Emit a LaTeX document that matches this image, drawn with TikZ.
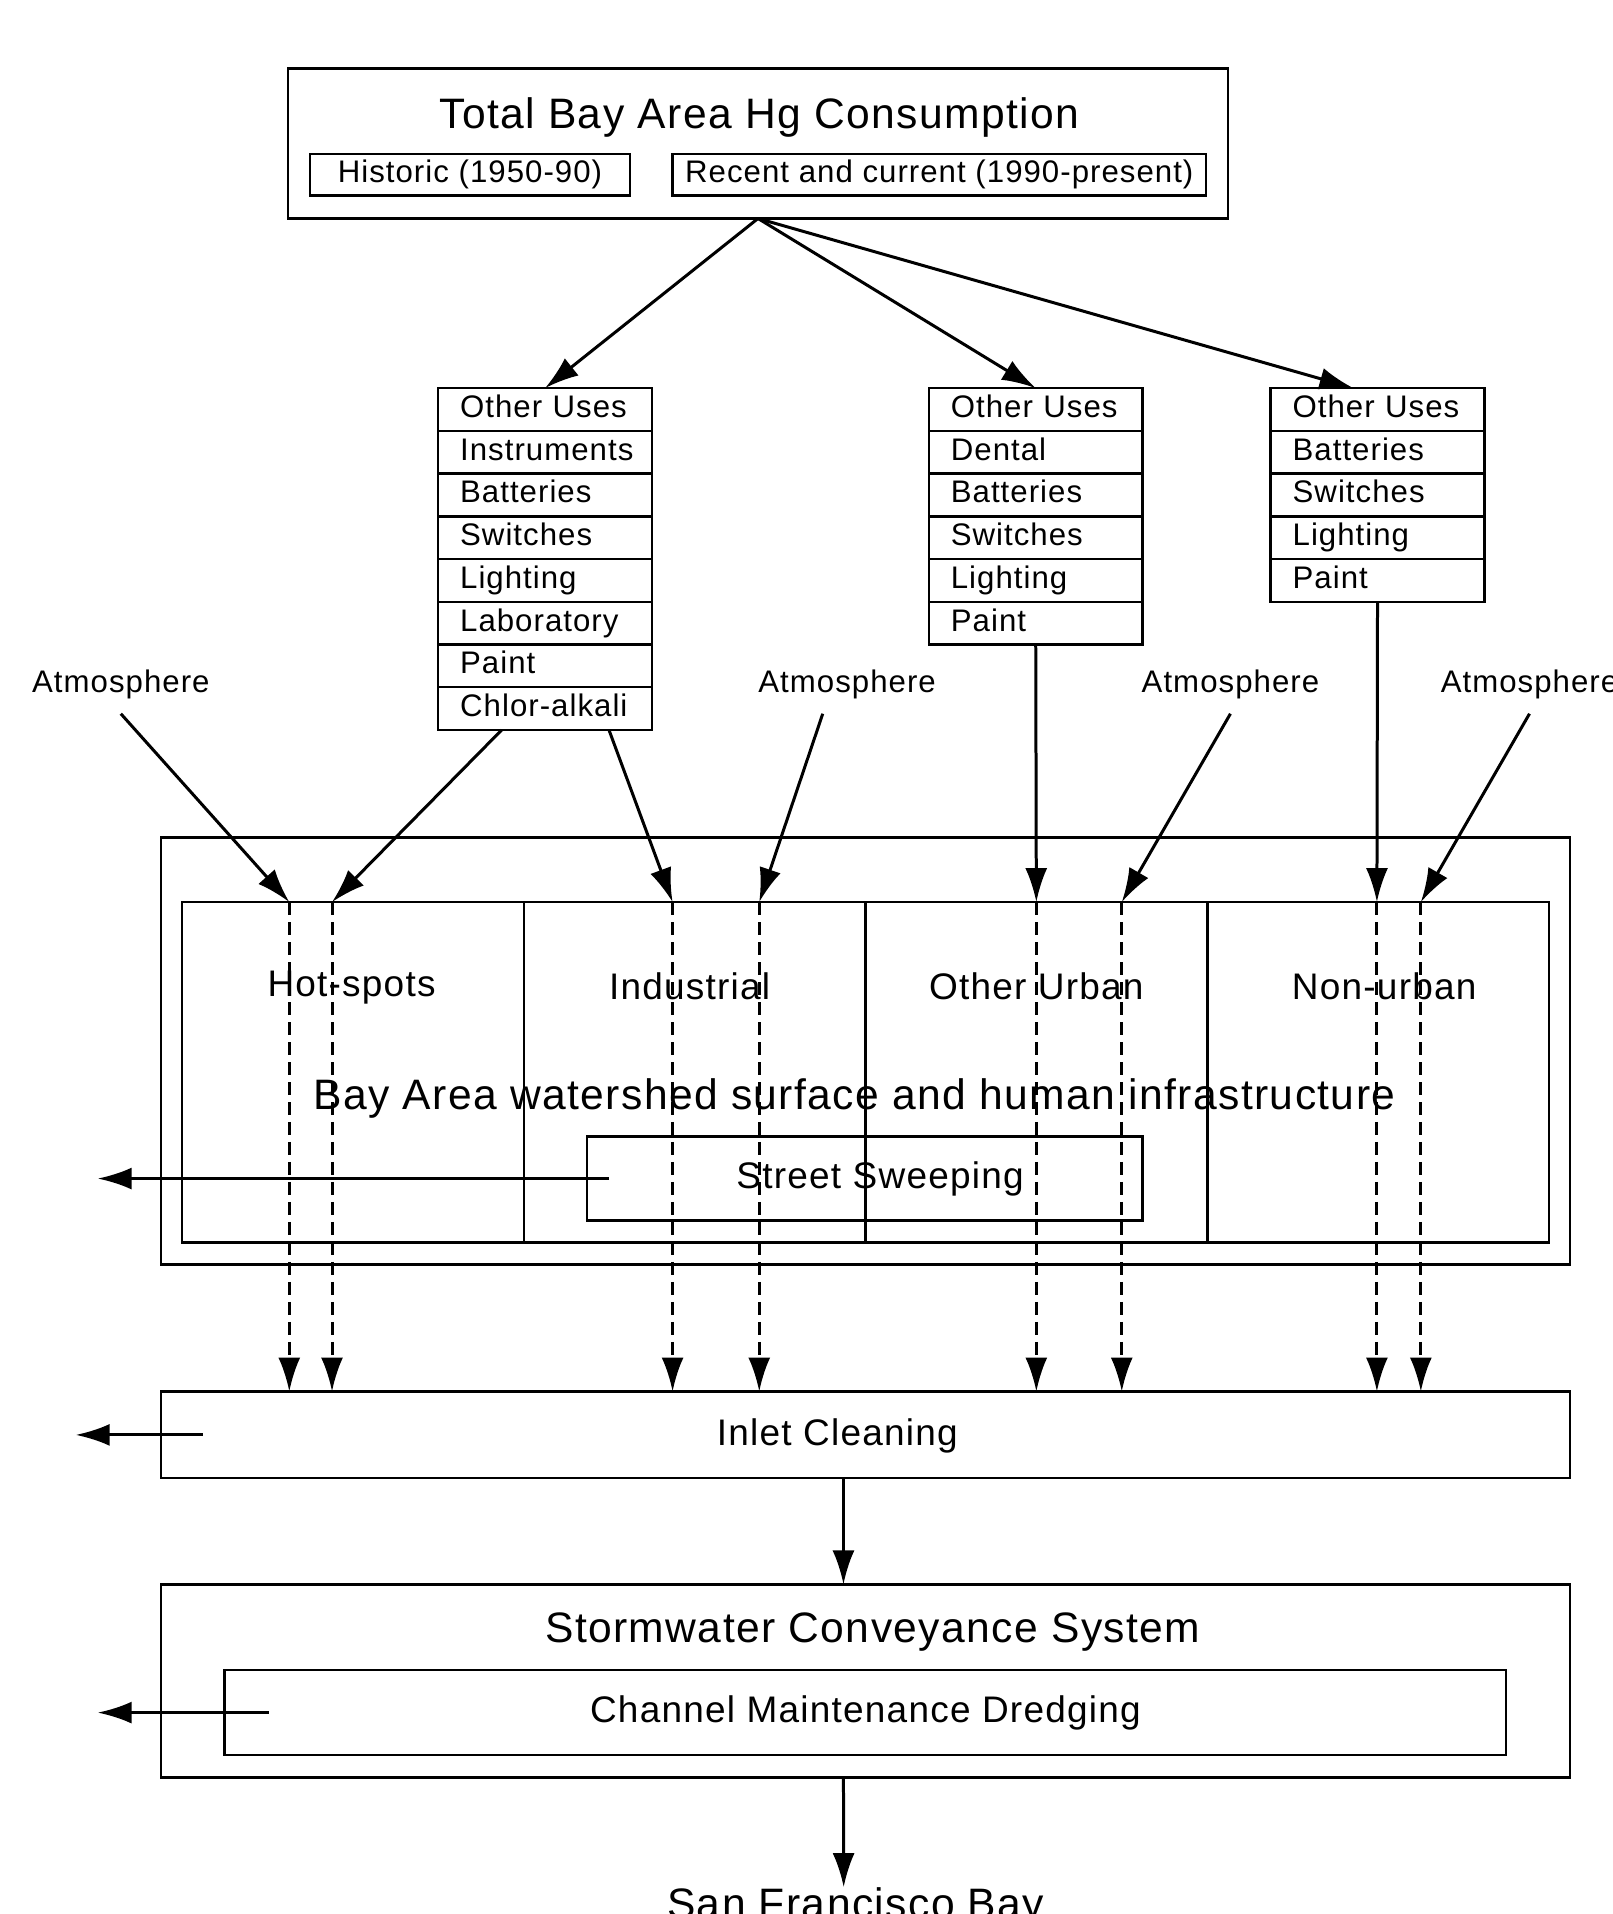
\documentclass[tikz,border=0pt]{standalone}
\usepackage{fontspec}
\setmainfont{Liberation Sans}[LetterSpace=3.3]
\usetikzlibrary{calc,positioning,arrows.meta}

\newcommand{\fsmall}{\fontsize{15.6pt}{18pt}\selectfont}
\newcommand{\fmid}{\fontsize{18.5pt}{21pt}\selectfont}
\newcommand{\fbig}{\fontsize{21.3pt}{24pt}\selectfont}

\tikzset{
  box/.style={draw, line width=1.2pt, inner sep=0pt, outer sep=0pt},
  userow/.style={box, font=\fsmall, minimum height=21.4pt, text width=106.9pt,
    align=left, text height=11.5pt, text depth=3.5pt,
    execute at begin node={\hspace*{11pt}}},
  cell/.style={box, minimum width=171pt, minimum height=170.4pt},
  wide/.style={box, minimum width=704.6pt},
  flow/.style={line width=1.5pt, -{Latex[length=17pt,width=11pt]}},
  dflow/.style={flow, dash pattern=on 6.5pt off 3.5pt},
  txt/.style={inner sep=0pt}
}

\begin{document}
\begin{tikzpicture}[x=0.6106pt, y={(0pt,-0.6106pt)}]
  \useasboundingbox (0,0) rectangle (1321,1568);

  % Consumption
  \node[box, minimum width=470.2pt, minimum height=75.1pt] (total) at (621,117.5) {};
  \node[txt, font=\fbig] (totaltitle) at (622,96) {Total Bay Area Hg Consumption};
  \node[box, font=\fsmall, minimum width=160pt, minimum height=20.8pt] (historic) at (385,143) {Historic (1950-90)};
  \node[box, font=\fsmall, minimum width=266.8pt, minimum height=20.8pt] (recent) at (769.5,143) {Recent and current (1990-present)};

  % Uses
  \foreach \item [count=\k] in {Other Uses,Instruments,Batteries,Switches,Lighting,Laboratory,Paint,Chlor-alkali}
    \node[userow] (lft\k) at (446.5, {300.5+35*\k}) {\item};
  \foreach \item [count=\k] in {Other Uses,Dental,Batteries,Switches,Lighting,Paint}
    \node[userow] (mid\k) at (848.5, {300.5+35*\k}) {\item};
  \foreach \item [count=\k] in {Other Uses,Batteries,Switches,Lighting,Paint}
    \node[userow] (rgt\k) at (1128.5, {300.5+35*\k}) {\item};

  \draw[flow] (total.south) -- (lft1.north);
  \draw[flow] (total.south) -- (mid1.north);
  \draw[flow] (total.south) -- ([xshift=-12pt]rgt1.north);

  % Atmosphere
  \node[txt, font=\fsmall] (atm1) at (99,561) {Atmosphere};
  \node[txt, font=\fsmall] (atm2) at (694,561) {Atmosphere};
  \node[txt, font=\fsmall] (atm3) at (1008,561) {Atmosphere};
  \node[txt, font=\fsmall] (atm4) at (1253,561) {Atmosphere};

  % Watershed
  \node[wide, minimum height=213.7pt] (shed) at (709,861) {};
  \node[cell] (hot) at (289,878.5) {};
  \node[cell, right=0pt of hot] (ind) {};
  \node[cell, right=0pt of ind] (urb) {};
  \node[cell, right=0pt of urb] (non) {};
  \node[txt, font=\fmid] (hotlbl) at (288,809) {Hot-spots};
  \node[txt, font=\fmid] (indlbl) at (565,808) {Industrial};
  \node[txt, font=\fmid] (urblbl) at (849,808) {Other Urban};
  \node[txt, font=\fmid] (nonlbl) at (1134,808) {Non-urban};
  \node[txt, font=\fbig] (shedlbl) at (700,900) {Bay Area watershed surface and human infrastructure};
  \node[box, minimum width=277.8pt, minimum height=42.1pt] (street) at (708.5,965.5) {};
  \node[txt, font=\fmid] (streetlbl) at (721,966) {Street Sweeping};

  \coordinate (hotA) at (237,739);
  \coordinate (hotB) at (272,739);
  \coordinate (indA) at (551,739);
  \coordinate (indB) at (622,739);
  \coordinate (urbA) at (849,739);
  \coordinate (urbB) at (919,739);
  \coordinate (nonA) at (1128,739);
  \coordinate (nonB) at (1164,739);

  \draw[flow] ([yshift=-7pt]atm1.south) -- (hotA);
  \draw[flow] ([xshift=-21.7pt]lft8.south) -- (hotB);
  \draw[flow] ([xshift=32pt]lft8.south) -- (indA);
  \draw[flow] ([xshift=-12.2pt,yshift=-7pt]atm2.south) -- (indB);
  \draw[flow] (mid6.south) -- (urbA);
  \draw[flow] ([yshift=-7pt]atm3.south) -- (urbB);
  \draw[flow] (rgt5.south) -- (nonA);
  \draw[flow] ([yshift=-7pt]atm4.south) -- (nonB);

  % Inlet cleaning
  \node[wide, minimum height=43.4pt] (inlet) at (709,1175.5) {};
  \node[txt, font=\fmid] (inletlbl) at (686,1176) {Inlet Cleaning};

  \foreach \p in {hotA,hotB,indA,indB,urbA,urbB,nonA,nonB}
    \draw[dflow] (\p) -- (\p |- inlet.north);

  % Stormwater
  \node[wide, minimum height=96.5pt] (storm) at (709,1377) {};
  \node[txt, font=\fbig] (stormlbl) at (715,1337) {Stormwater Conveyance System};
  \node[box, font=\fmid, minimum width=641.1pt, minimum height=42.7pt] (chan) at (709,1403) {Channel Maintenance Dredging};
  \node[txt, font=\fbig, anchor=north] (bay) at (701,1546) {San Francisco Bay};

  % Removal
  \coordinate (sweepout) at (80,965.5);
  \coordinate (inletout) at (62,1175.5);
  \coordinate (chanout) at (80,1403);
  \draw[flow] ([xshift=11pt]street.west) -- (sweepout);
  \draw[flow] ([xshift=20.8pt]inlet.west) -- (inletout);
  \draw[flow] ([xshift=22pt]chan.west) -- (chanout);

  \draw[flow] ([xshift=-11pt]inlet.south) -- ([xshift=-11pt]storm.north);
  \draw[flow] ([xshift=-11pt]storm.south) -- ([xshift=-6pt]bay.north);
\end{tikzpicture}
\end{document}
